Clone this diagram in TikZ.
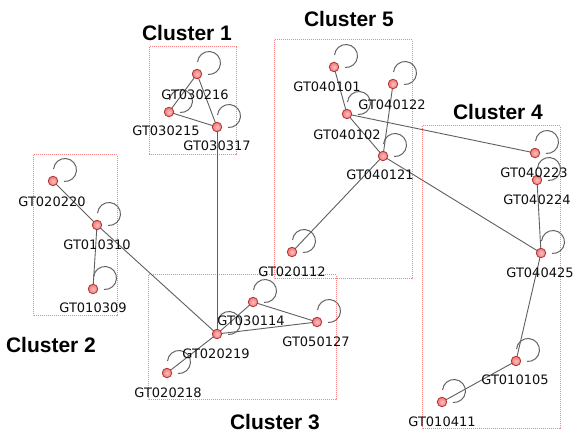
\documentclass[tikz,border=0pt]{standalone}
\usepackage{fontspec}
\usetikzlibrary{calc}
\setmainfont{DejaVu Sans}
\newfontfamily\titlefont{Liberation Sans}
\definecolor{nodefill}{RGB}{236,120,120}
\definecolor{nodeedge}{RGB}{180,50,50}
\definecolor{boxred}{RGB}{248,130,130}
\definecolor{edgegray}{RGB}{95,95,95}
\definecolor{loopgray}{RGB}{100,100,100}
\definecolor{labelcol}{RGB}{15,15,15}
\begin{document}
\begin{tikzpicture}[x=1pt,y=-1pt,
  gnode/.style={circle,minimum size=9.5pt,inner sep=0pt,inner color=red!25!white,outer color=nodefill,draw=nodeedge,line width=0.8pt},
  glabel/.style={font=\fontsize{13}{15}\selectfont,text=labelcol,inner sep=0pt},
  ctitle/.style={font=\titlefont\bfseries\fontsize{21}{24}\selectfont,inner sep=0pt},
  clbox/.style={draw=boxred,densely dotted,line width=1pt},
  edge/.style={draw=edgegray,line width=0.9pt},
  selfloop/.style={draw=loopgray,line width=1pt}]
\useasboundingbox (0,0) rectangle (574,435);
\fill[white] (0,0) rectangle (574,435);

% cluster boxes
\draw[clbox] (149,47) rectangle (236,155);
\draw[clbox] (274,40) rectangle (412,279);
\draw[clbox] (33,155) rectangle (117,316);
\draw[clbox] (148,275) rectangle (336,400);
\draw[clbox] (422,126) rectangle (560,429);

% cluster titles
\node[ctitle] (t1) at (187,33) {Cluster 1};
\node[ctitle] (t5) at (349,19) {Cluster 5};
\node[ctitle] (t4) at (498,112) {Cluster 4};
\node[ctitle] (t2) at (51,345) {Cluster 2};
\node[ctitle] (t3) at (275,422) {Cluster 3};

% node coordinates
\coordinate (p030216) at (197,74);
\coordinate (p030215) at (169,112);
\coordinate (p030317) at (217,127);
\coordinate (p040101) at (334,67);
\coordinate (p040122) at (393,84);
\coordinate (p040102) at (347,114);
\coordinate (p040121) at (383,156);
\coordinate (p020112) at (292,252);
\coordinate (p020220) at (53,181);
\coordinate (p010310) at (97,225);
\coordinate (p010309) at (93,289);
\coordinate (p030114) at (253,302);
\coordinate (p050127) at (317,322);
\coordinate (p020219) at (217,334);
\coordinate (p020218) at (167,373);
\coordinate (p040223) at (535,153);
\coordinate (p040224) at (537,180);
\coordinate (p040425) at (541,253);
\coordinate (p010105) at (516,361);
\coordinate (p010411) at (442,402);

% edges
\draw[edge] (p030216) -- (p030215);
\draw[edge] (p030215) -- (p030317);
\draw[edge] (p030216) -- (p030317);
\draw[edge] (p030317) -- (p020219);
\draw[edge] (p010310) -- (p020220);
\draw[edge] (p010310) -- (p010309);
\draw[edge] (p010310) -- (p020219);
\draw[edge] (p020219) -- (p030114);
\draw[edge] (p020219) -- (p050127);
\draw[edge] (p030114) -- (p050127);
\draw[edge] (p020219) -- (p020218);
\draw[edge] (p040101) -- (p040102);
\draw[edge] (p040122) -- (p040121);
\draw[edge] (p040102) -- (p040121);
\draw[edge] (p040102) -- (p040223);
\draw[edge] (p040121) -- (p040425);
\draw[edge] (p040121) -- (p020112);
\draw[edge] (p040224) -- (p040425);
\draw[edge] (p040425) -- (p010105);
\draw[edge] (p010105) -- (p010411);

% self loops
\foreach \p in {030216,030215,030317,040101,040122,040102,040121,020112,020220,010310,010309,030114,050127,020219,020218,040223,040224,040425,010105,010411}{
  \draw[selfloop] ($(p\p)+(12,-11)$) ++(185:11.5) arc[start angle=185,end angle=455,radius=11.5];
}

% nodes
\foreach \p in {030216,030215,030317,040101,040122,040102,040121,020112,020220,010310,010309,030114,050127,020219,020218,040223,040224,040425,010105,010411}{
  \node[gnode] (n\p) at (p\p) {};
}

% labels
\node[glabel] (l030216) at (195,95) {GT030216};
\node[glabel] (l030215) at (166,131) {GT030215};
\node[glabel] (l030317) at (217,146) {GT030317};
\node[glabel] (l040101) at (327,87) {GT040101};
\node[glabel] (l040122) at (392,105) {GT040122};
\node[glabel] (l040102) at (347,135) {GT040102};
\node[glabel] (l040121) at (380,175) {GT040121};
\node[glabel] (l020112) at (292,272) {GT020112};
\node[glabel] (l020220) at (52,202) {GT020220};
\node[glabel] (l010310) at (97,245) {GT010310};
\node[glabel] (l010309) at (93,308) {GT010309};
\node[glabel] (l030114) at (251,321) {GT030114};
\node[glabel] (l050127) at (316,342) {GT050127};
\node[glabel] (l020219) at (216,354) {GT020219};
\node[glabel] (l020218) at (168,393) {GT020218};
\node[glabel] (l040223) at (534,173) {GT040223};
\node[glabel] (l040224) at (537,200) {GT040224};
\node[glabel] (l040425) at (540,273) {GT040425};
\node[glabel] (l010105) at (515,380) {GT010105};
\node[glabel] (l010411) at (442,422) {GT010411};
\end{tikzpicture}
\end{document}
